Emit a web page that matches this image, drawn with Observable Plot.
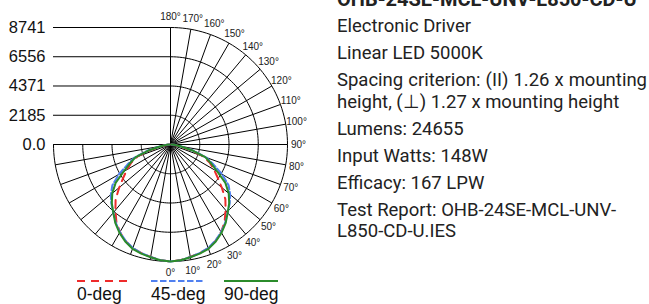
<!DOCTYPE html>
<html>
<head>
<meta charset="utf-8">
<script src="https://cdn.jsdelivr.net/npm/d3@7"></script>
<script src="https://cdn.jsdelivr.net/npm/@observablehq/plot@0.6"></script>
<style>
html, body { margin: 0; padding: 0; background: #fff; }
body { width: 649px; height: 304px; position: relative; overflow: hidden; }
#chart { position: absolute; left: 0; top: 0; }
#info { position: absolute; left: 337px; top: -11px; font-family: Roboto, sans-serif; font-size: 18.5px; color: #222; white-space: nowrap; }
#info p { margin: 0 0 5.5px 0; line-height: 21.5px; }
#info p.title { font-weight: bold; font-size: 20px; }
#info .just { display: inline-block; width: 310px; text-align: justify; text-align-last: justify; }
.leg { position: absolute; top: 279px; }
.leg svg { display: block; }
.leg div { position: absolute; top: 6.5px; left: 0; font-family: "Liberation Sans", Arial, sans-serif; font-size: 17.5px; line-height: 17.5px; color: #111; white-space: nowrap; }
</style>
</head>
<body>
<div id="chart"></div>
<div id="info"></div>
<div id="legend"></div>
<script>
// ---- data ----
const angles = [0, 5, 10, 15, 20, 25, 30, 35, 40, 45, 50, 55, 60, 65, 70, 75, 80, 85, 90];
const cd0deg  = [8741, 8670, 8530, 8400, 8250, 7950, 7560, 7050, 6400, 5800, 5000, 4300, 3750, 3250, 2600, 1500, 620, 230, 60];
const cd45deg = [8741, 8680, 8540, 8400, 8230, 7930, 7560, 7130, 6650, 6250, 5820, 5300, 4450, 3550, 2850, 1750, 800, 300, 75];
const cd90deg = [8741, 8680, 8553, 8440, 8292, 8000, 7620, 7180, 6649, 6200, 5678, 5005, 4034, 3362, 2764, 1643, 747, 299, 75];
const seriesNames = ["0-deg", "45-deg", "90-deg"];
const seriesColors = ["#ee2b2b", "#5080f0", "#2b8c2b"];
const seriesDash = ["8,6", "6.5,2.5", null];
const radialTicks = [0, 2185, 4371, 6556, 8741];
const radialTickLabels = ["0.0", "2185", "4371", "6556", "8741"];
const angleTicks = [0, 10, 20, 30, 40, 50, 60, 70, 80, 90, 100, 110, 120, 130, 140, 150, 160, 170, 180];
const gridAngles = [-90, -80, -70, -60, -50, -40, -30, -20, -10, 0, 10, 20, 30, 40, 50, 60, 70, 80, 90, 100, 110, 120, 130, 140, 150, 160, 170, 180];
const title = "OHB-24SE-MCL-UNV-L850-CD-U";
const infoLines = [
  "Electronic Driver",
  "Linear LED 5000K",
  "<span class=\"just\">Spacing criterion: (II) 1.26 x mounting</span><br>height, (\u22A5) 1.27 x mounting height",
  "Lumens: 24655",
  "Input Watts: 148W",
  "Efficacy: 167 LPW",
  "Test Report: OHB-24SE-MCL-UNV-<br>L850-CD-U.IES"
];

// ---- helpers ----
const R = radialTicks[radialTicks.length - 1];
const rad = d => d * Math.PI / 180;
const px = (r, a) => r * Math.sin(rad(a));
const py = (r, a) => -r * Math.cos(rad(a));

const seriesValues = [cd0deg, cd45deg, cd90deg];
const curves = seriesValues.map((vals, s) => {
  const pts = [];
  for (let i = angles.length - 1; i >= 1; i--) pts.push({x: px(vals[i], -angles[i]), y: py(vals[i], -angles[i])});
  for (let i = 0; i < angles.length; i++) pts.push({x: px(vals[i], angles[i]), y: py(vals[i], angles[i])});
  return pts;
});

const arcs = [];
radialTicks.filter(v => v > 0).forEach(v => {
  for (let a = -90; a <= 180; a += 2) arcs.push({v, x: px(v, a), y: py(v, a)});
});

const labelMap = new Map(radialTicks.map((v, i) => [v, radialTickLabels[i]]));

const marks = [
  Plot.line(arcs, {x: "x", y: "y", z: "v", stroke: "#000", strokeWidth: 1}),
  Plot.link(gridAngles, {x1: 0, y1: 0, x2: a => px(R, a), y2: a => py(R, a), stroke: "#000", strokeWidth: 1}),
  Plot.ruleY(radialTicks.filter(v => v > 0), {x1: -R, x2: 0, stroke: "#000", strokeWidth: 1}),
  Plot.axisY(radialTicks, {anchor: "left", label: null, tickSize: 0, tickPadding: 7, tickFormat: d => labelMap.get(d), fontSize: 16.5, fill: "#111"}),
  Plot.text(angleTicks, {x: a => px(R * 1.094, a), y: a => py(R * 1.094, a), text: a => a + "\u00B0", fontSize: 10, fill: "#222"})
];
[0, 1, 2].forEach(s => {
  marks.push(Plot.line(curves[s], {x: "x", y: "y", stroke: seriesColors[s], strokeWidth: 2, strokeDasharray: seriesDash[s] || undefined}));
});

const chart = Plot.plot({
  width: 320,
  height: 304,
  marginLeft: 52,
  marginRight: 0,
  marginTop: 0,
  marginBottom: 0,
  x: {domain: [-R, R], range: [53, 287], axis: null},
  y: {domain: [-R, R], range: [261, 27], axis: null},
  style: {fontFamily: "'Liberation Sans', Arial, sans-serif", background: "transparent", overflow: "visible"},
  marks
});
document.getElementById("chart").appendChild(chart);

// ---- info text ----
const info = document.getElementById("info");
info.innerHTML = `<p class="title">${title}</p>` + infoLines.map(t => `<p>${t}</p>`).join("");

// ---- legend ----
const legLeft = [77, 151, 224];
const legend = document.getElementById("legend");
seriesNames.forEach((name, s) => {
  const d = document.createElement("div");
  d.className = "leg";
  d.style.left = legLeft[s] + "px";
  d.innerHTML = `<svg width="54" height="4"><line x1="0" x2="54" y1="2" y2="2" stroke="${seriesColors[s]}" stroke-width="2" ${seriesDash[s] ? `stroke-dasharray="${seriesDash[s]}"` : ""}/></svg><div>${name}</div>`;
  legend.appendChild(d);
});
</script>
</body>
</html>
